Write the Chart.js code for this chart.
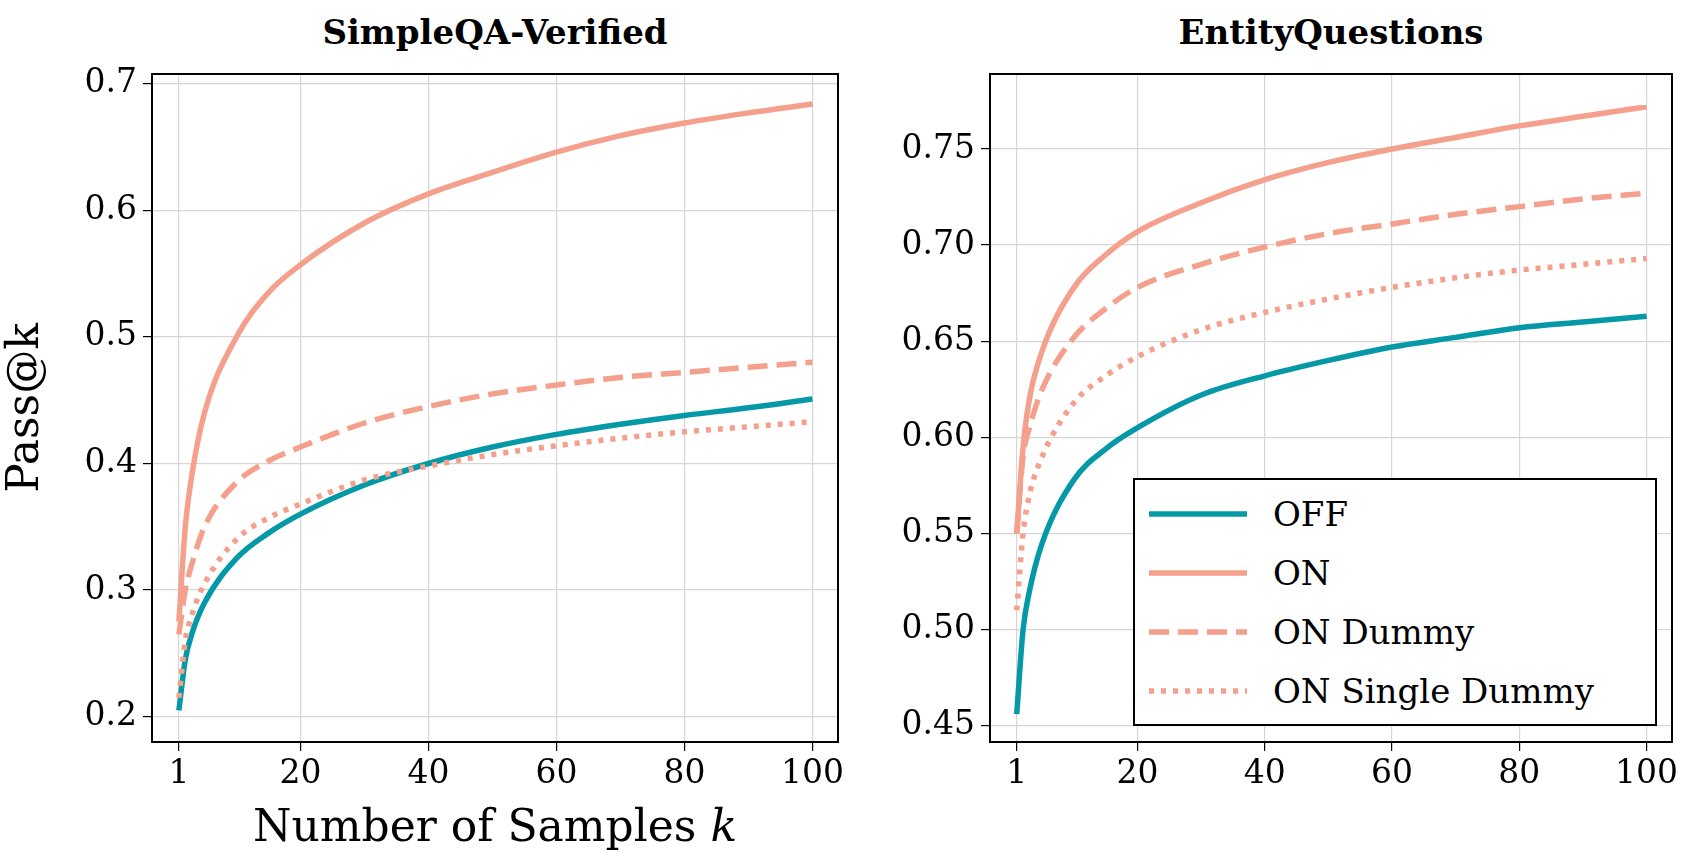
<!DOCTYPE html>
<html>
<head>
<meta charset="utf-8">
<script src="https://cdn.jsdelivr.net/npm/chart.js@4"></script>
<style>
  body { margin: 0; background: #fff; width: 1694px; height: 867px; position: relative; font-family: "DejaVu Serif", serif; overflow: hidden; }
  .box { position: absolute; top: 0; height: 867px; }
  .title { position: absolute; top: 12px; font-weight: bold; font-size: 34px; text-align: center; }
  #xlab { position: absolute; left: 152px; width: 686px; top: 800px; font-size: 44px; text-align: center; }
  #legend { position: absolute; left: 1133px; top: 478px; width: 520px; height: 240px; border: 2px solid #000; background: #fff; font-size: 34px; }
  .row { display: flex; align-items: center; height: 59px; margin-left: 14px; }
  .row svg { margin-right: 26px; }
</style>
</head>
<body>
<div class="title" style="left:152px;width:686px">SimpleQA-Verified</div>
<div class="title" style="left:990px;width:682px">EntityQuestions</div>
<div class="box" style="left:0;width:860px"><canvas id="c1"></canvas></div>
<div class="box" style="left:870px;width:824px"><canvas id="c2"></canvas></div>
<div id="xlab">Number of Samples <i>k</i></div>
<div id="legend" style="padding-top:4px">
  <div class="row"><svg width="98" height="10"><line x1="0" y1="5" x2="98" y2="5" stroke="#0599a8" stroke-width="5.5"/></svg>OFF</div>
  <div class="row"><svg width="98" height="10"><line x1="0" y1="5" x2="98" y2="5" stroke="#f4a08c" stroke-width="5.5"/></svg>ON</div>
  <div class="row"><svg width="98" height="10"><line x1="0" y1="5" x2="98" y2="5" stroke="#f4a08c" stroke-width="5.5" stroke-dasharray="20 9"/></svg>ON Dummy</div>
  <div class="row"><svg width="98" height="10"><line x1="0" y1="5" x2="98" y2="5" stroke="#f4a08c" stroke-width="5.5" stroke-dasharray="5 7"/></svg>ON Single Dummy</div>
</div>
<script>
const ks = [1, 2, 3, 5, 10, 15, 20, 30, 40, 50, 60, 70, 80, 90, 100];
const xTicks = [1, 20, 40, 60, 80, 100];

const sqOff = [0.205, 0.245, 0.265, 0.29, 0.325, 0.345, 0.36, 0.383, 0.40, 0.413, 0.423, 0.431, 0.438, 0.444, 0.451];
const sqOn = [0.275, 0.35, 0.39, 0.44, 0.50, 0.535, 0.557, 0.59, 0.613, 0.63, 0.646, 0.659, 0.669, 0.677, 0.684];
const sqDummy = [0.265, 0.30, 0.32, 0.35, 0.385, 0.402, 0.413, 0.432, 0.445, 0.455, 0.462, 0.468, 0.472, 0.476, 0.48];
const sqSingle = [0.215, 0.26, 0.28, 0.305, 0.34, 0.357, 0.368, 0.387, 0.398, 0.407, 0.414, 0.42, 0.425, 0.429, 0.433];

const eqOff = [0.456, 0.50, 0.52, 0.545, 0.578, 0.594, 0.605, 0.622, 0.632, 0.64, 0.647, 0.652, 0.657, 0.66, 0.663];
const eqOn = [0.55, 0.595, 0.62, 0.645, 0.678, 0.695, 0.707, 0.722, 0.734, 0.743, 0.75, 0.756, 0.762, 0.767, 0.772];
const eqDummy = [0.55, 0.59, 0.605, 0.625, 0.652, 0.667, 0.678, 0.69, 0.699, 0.706, 0.711, 0.716, 0.72, 0.724, 0.727];
const eqSingle = [0.51, 0.55, 0.57, 0.59, 0.618, 0.632, 0.642, 0.656, 0.665, 0.672, 0.678, 0.683, 0.687, 0.69, 0.693];

const teal = "#0599a8", salmon = "#f4a08c";

function series(vals, color, dash) {
  return {
    data: ks.map((k, i) => ({ x: k, y: vals[i] })),
    borderColor: color, borderWidth: 5.5, borderDash: dash,
    pointRadius: 0, cubicInterpolationMode: "monotone", fill: false
  };
}

// full black frame around the plot area
const frame = {
  id: "frame",
  afterDraw(chart) {
    const a = chart.chartArea, c = chart.ctx;
    c.save();
    c.strokeStyle = "#000"; c.lineWidth = 2;
    c.strokeRect(a.left, a.top, a.right - a.left, a.bottom - a.top);
    c.restore();
  }
};

function makeChart(id, sets, yMin, yMax, yStep, yDigits, yWidth, rightPad, showTitle) {
  const tickFont = { family: "DejaVu Serif", size: 33 };
  new Chart(document.getElementById(id), {
    type: "line",
    data: { datasets: sets },
    options: {
      responsive: true, maintainAspectRatio: false, animation: false,
      layout: { padding: { top: 74, right: rightPad, left: 0, bottom: 0 } },
      plugins: { legend: { display: false }, tooltip: { enabled: false } },
      scales: {
        x: {
          type: "linear", min: -3.2, max: 104,
          afterBuildTicks: s => { s.ticks = xTicks.map(v => ({ value: v })); },
          ticks: { color: "#000", font: tickFont, padding: 4, maxRotation: 0 },
          grid: { color: "#d6d6d6", tickColor: "#000", tickLength: 9, lineWidth: 1.2 },
          border: { color: "#000", width: 2 },
          afterFit: s => { s.height = 125; }
        },
        y: {
          min: yMin, max: yMax,
          afterBuildTicks: s => {
            const t = [];
            for (let v = Math.ceil(yMin / yStep) * yStep; v <= yMax + 1e-9; v += yStep) t.push({ value: +v.toFixed(4) });
            s.ticks = t;
          },
          ticks: { color: "#000", font: tickFont, padding: 6, callback: v => v.toFixed(yDigits) },
          grid: { color: "#d6d6d6", tickColor: "#000", tickLength: 9, lineWidth: 1.2 },
          border: { color: "#000", width: 2 },
          title: { display: showTitle, text: "Pass@k", color: "#000", font: { family: "DejaVu Serif", size: 44 }, padding: 0 },
          afterFit: s => { s.width = yWidth; }
        }
      }
    },
    plugins: [frame]
  });
}

makeChart("c1", [series(sqOn, salmon, []), series(sqDummy, salmon, [20, 9]), series(sqSingle, salmon, [5, 7]), series(sqOff, teal, [])],
  0.18, 0.7077, 0.1, 1, 152, 22, true);
makeChart("c2", [series(eqOn, salmon, []), series(eqDummy, salmon, [20, 9]), series(eqSingle, salmon, [5, 7]), series(eqOff, teal, [])],
  0.4415, 0.789, 0.05, 2, 120, 22, false);
</script>
</body>
</html>
